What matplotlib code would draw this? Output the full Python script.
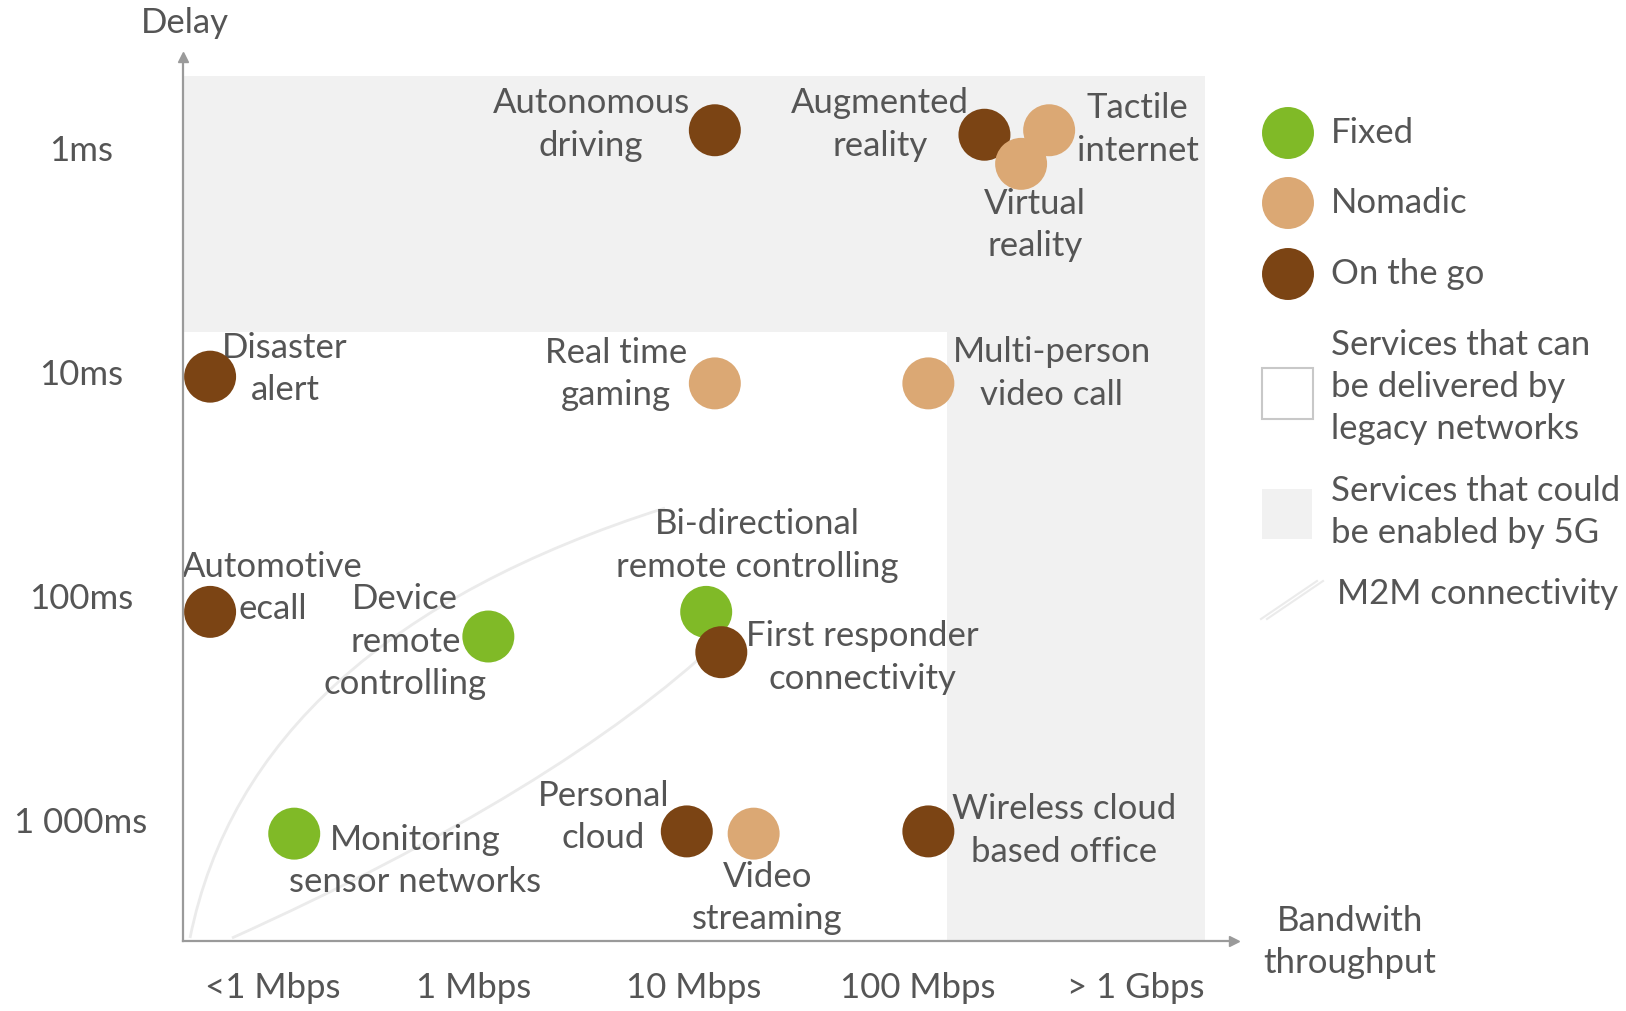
import matplotlib
matplotlib.use("Agg")
import matplotlib.pyplot as plt
from matplotlib.patches import Rectangle, PathPatch
from matplotlib.path import Path

plt.rcParams['font.family'] = ['Lato', 'DejaVu Sans']

# ---------------- data ----------------
services = ["Autonomous driving", "Augmented reality", "Tactile internet", "Virtual reality",
            "Disaster alert", "Real time gaming", "Multi-person video call",
            "Automotive ecall", "Device remote controlling", "Bi-directional remote controlling",
            "First responder connectivity", "Monitoring sensor networks", "Personal cloud",
            "Video streaming", "Wireless cloud based office"]
# bandwidth level: 0=<1 Mbps, 1=1 Mbps, 2=10 Mbps, 3=100 Mbps, 4=>1 Gbps
bandwidth = [2.05, 3.30, 3.60, 3.47, -0.29, 2.05, 3.04, -0.29, 1.00, 2.01, 2.08, 0.10, 1.92, 2.23, 3.04]
# delay level: 0=1ms, 1=10ms, 2=100ms, 3=1 000ms
delay = [-0.08, -0.06, -0.08, 0.07, 1.02, 1.05, 1.05, 2.07, 2.18, 2.07, 2.25, 3.06, 3.05, 3.06, 3.05]
mobility = ["go", "go", "nomadic", "nomadic", "go", "nomadic", "nomadic", "go", "fixed", "fixed",
            "go", "fixed", "go", "nomadic", "go"]

x_tick_pos = [0, 0.93, 1.95, 2.99, 4.0]
x_tick_labels = ["<1 Mbps", "1 Mbps", "10 Mbps", "100 Mbps", "> 1 Gbps"]
y_tick_pos = [0, 1, 2, 3]
y_tick_labels = ["1ms", "10ms", "100ms", "1 000ms"]

# ---------------- layout / style ----------------
label_text = {
    "Autonomous driving": "Autonomous\ndriving",
    "Augmented reality": "Augmented\nreality",
    "Tactile internet": "Tactile\ninternet",
    "Virtual reality": "Virtual\nreality",
    "Disaster alert": "Disaster\nalert",
    "Real time gaming": "Real time\ngaming",
    "Multi-person video call": "Multi-person\nvideo call",
    "Automotive ecall": "Automotive\necall",
    "Device remote controlling": "Device\nremote\ncontrolling",
    "Bi-directional remote controlling": "Bi-directional\nremote controlling",
    "First responder connectivity": "First responder\nconnectivity",
    "Monitoring sensor networks": "Monitoring\nsensor networks",
    "Personal cloud": "Personal\ncloud",
    "Video streaming": "Video\nstreaming",
    "Wireless cloud based office": "Wireless cloud\nbased office",
}
label_pos = {
    "Autonomous driving": (1.476, -0.106),
    "Augmented reality": (2.817, -0.106),
    "Tactile internet": (4.010, -0.083),
    "Virtual reality": (3.534, 0.343),
    "Disaster alert": (0.058, 0.986),
    "Real time gaming": (1.591, 1.009),
    "Multi-person video call": (3.611, 1.005),
    "Automotive ecall": (0.0, 1.963),
    "Device remote controlling": (0.615, 2.204),
    "Bi-directional remote controlling": (2.245, 1.773),
    "First responder connectivity": (2.736, 2.273),
    "Monitoring sensor networks": (0.659, 3.181),
    "Personal cloud": (1.534, 2.986),
    "Video streaming": (2.293, 3.347),
    "Wireless cloud based office": (3.668, 3.046),
}
colors = {"fixed": "#80ba27", "nomadic": "#dba874", "go": "#7b4414"}
TXT = "#555555"
GREY = "#f1f1f1"
FS = 25
LS = 1.4
MS = 1400

W, H = 1626, 1011
fig = plt.figure(figsize=(W / 100, H / 100), dpi=100)

# overlay axes in pixel coordinates for legend & decorations
ov = fig.add_axes([0, 0, 1, 1], zorder=0)
ov.set_xlim(0, W)
ov.set_ylim(H, 0)
ov.axis("off")

# main axes
L, R, B, T = 182.5, 1234, 940.5, 57
ax = fig.add_axes([L / W, 1 - B / H, (R - L) / W, (B - T) / H], zorder=1)
ax.set_facecolor("none")
xlim = (-0.418, 4.457)
ylim = (3.537, -0.407)
ax.set_xlim(*xlim)
ax.set_ylim(*ylim)

# shaded 5G region
ax.add_patch(Rectangle((xlim[0], -0.324), 4.322 - xlim[0], 0.819 + 0.324, facecolor=GREY, edgecolor="none", zorder=0))
ax.add_patch(Rectangle((3.125, 0.819), 4.322 - 3.125, ylim[0] - 0.819, facecolor=GREY, edgecolor="none", zorder=0))

# spines & arrows
for s in ["top", "right"]:
    ax.spines[s].set_visible(False)
for s in ["left", "bottom"]:
    ax.spines[s].set_color("#9a9a9a")
    ax.spines[s].set_linewidth(1.6)
ax.plot(1, 0, marker=">", color="#9a9a9a", markersize=7, transform=ax.transAxes, clip_on=False)
ax.plot(0, 1, marker="^", color="#9a9a9a", markersize=7, transform=ax.transAxes, clip_on=False)

ax.set_xticks(x_tick_pos)
ax.set_xticklabels(x_tick_labels, fontsize=FS, color=TXT)
ax.set_yticks(y_tick_pos)
ax.set_yticklabels(y_tick_labels, fontsize=FS, color=TXT)
ax.tick_params(axis="both", length=0)
ax.tick_params(axis="x", pad=23)
ax.tick_params(axis="y", pad=73)
for lab in ax.get_yticklabels():
    lab.set_horizontalalignment("center")

# M2M connectivity outline (decoration)
m2m_col = "#ebebeb"
for verts in [[(190, 938), (250, 640), (665, 508)], [(232, 938), (560, 790), (720, 640)]]:
    p = Path(verts, [Path.MOVETO, Path.CURVE3, Path.CURVE3])
    ov.add_patch(PathPatch(p, facecolor="none", edgecolor=m2m_col, lw=2))

# labels
for name in services:
    lx, ly = label_pos[name]
    ax.text(lx, ly, label_text[name], ha="center", va="center", fontsize=FS, color=TXT,
            linespacing=LS, zorder=2)

# points
for kind in ["fixed", "go", "nomadic"]:
    xs = [b for b, m in zip(bandwidth, mobility) if m == kind]
    ys = [d for d, m in zip(delay, mobility) if m == kind]
    ax.scatter(xs, ys, s=MS, color=colors[kind], edgecolors="none", zorder=3, clip_on=False)

# axis titles
ov.text(185, 23, "Delay", ha="center", va="center", fontsize=FS, color=TXT)
ov.text(1350, 942, "Bandwith\nthroughput", ha="center", va="center", fontsize=FS, color=TXT, linespacing=LS)

# legend
leg_x, txt_x = 1288, 1331
for yy, kind, lab in [(133, "fixed", "Fixed"), (203, "nomadic", "Nomadic"), (274, "go", "On the go")]:
    ov.scatter([leg_x], [yy], s=MS, color=colors[kind], edgecolors="none")
    ov.text(txt_x, yy, lab, ha="left", va="center", fontsize=FS, color=TXT)
ov.add_patch(Rectangle((1262, 368), 51, 51, facecolor="white", edgecolor="#c8c8c8", lw=1.5))
ov.text(txt_x, 387, "Services that can\nbe delivered by\nlegacy networks", ha="left", va="center",
        fontsize=FS, color=TXT, linespacing=LS)
ov.add_patch(Rectangle((1262, 489), 50, 50, facecolor=GREY, edgecolor="none"))
ov.text(txt_x, 512, "Services that could\nbe enabled by 5G", ha="left", va="center",
        fontsize=FS, color=TXT, linespacing=LS)
for off in (0, 6):
    ov.plot([1261 + off, 1317 + off], [619, 581], color=m2m_col, lw=1.5)
ov.text(1337, 594, "M2M connectivity", ha="left", va="center", fontsize=FS, color=TXT)

fig.savefig("out.png", dpi=100)
